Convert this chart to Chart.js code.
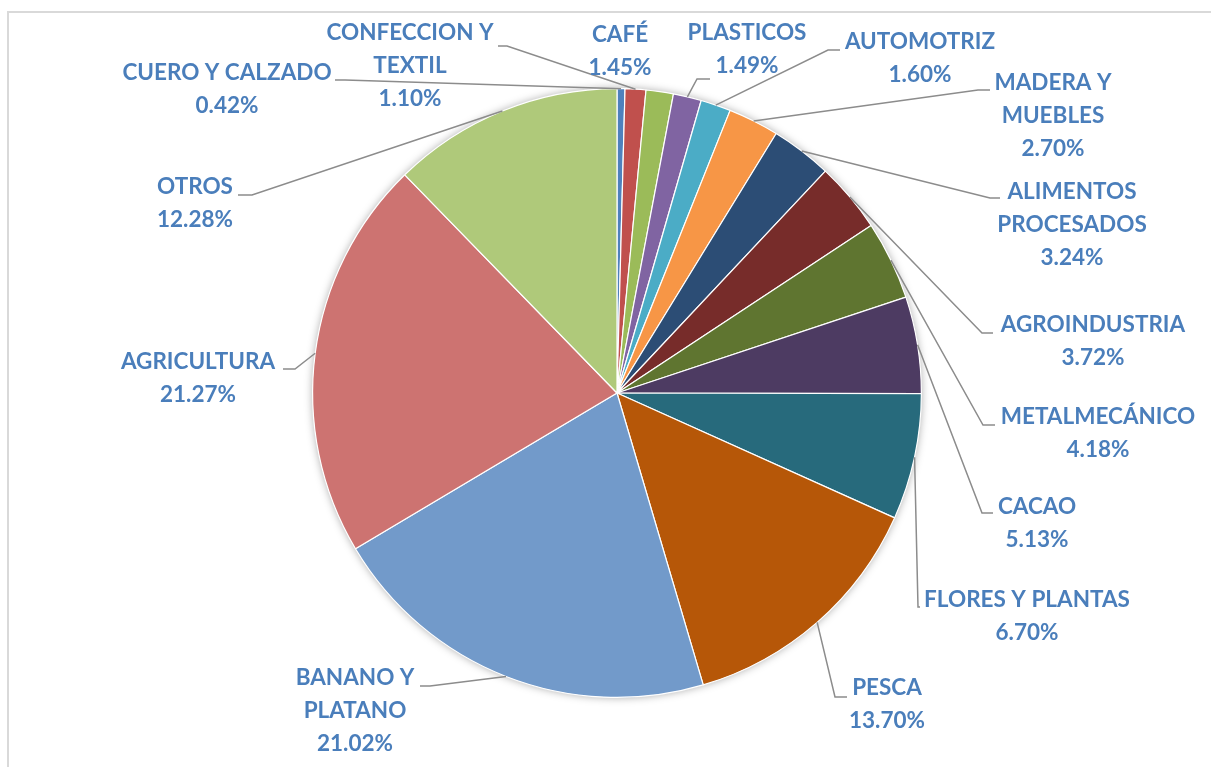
<!DOCTYPE html>
<html>
<head>
<meta charset="utf-8">
<script src="https://cdn.jsdelivr.net/npm/chart.js@4"></script>
<style>
    body { margin: 0; background: #fff; overflow: hidden; }
    #wrap { position: relative; width: 1211px; height: 767px; }
    #frame {
        position: absolute; left: 7px; top: 11px; width: 1220px; height: 780px;
        border-left: 2px solid #d9d9d9; border-top: 2px solid #d9d9d9;
    }
    canvas { position: absolute; left: 0; top: 0; }
</style>
</head>
<body>
<div id="wrap">
    <div id="frame"></div>
    <canvas id="pie-chart" width="1211" height="767"></canvas>
</div>
<script>
// NOTE data, clockwise from 12 o'clock
const categories = [
    'CUERO Y CALZADO',
    'CONFECCION Y\nTEXTIL',
    'CAFÉ',
    'PLASTICOS',
    'AUTOMOTRIZ',
    'MADERA Y\nMUEBLES',
    'ALIMENTOS\nPROCESADOS',
    'AGROINDUSTRIA',
    'METALMECÁNICO',
    'CACAO',
    'FLORES Y PLANTAS',
    'PESCA',
    'BANANO Y\nPLATANO',
    'AGRICULTURA',
    'OTROS',
];
const shares = [0.42, 1.10, 1.45, 1.49, 1.60, 2.70, 3.24, 3.72, 4.18, 5.13, 6.70, 13.70, 21.02, 21.27, 12.28];
const colors = [
    '#4F81BD', '#C0504D', '#9BBB59', '#8064A2', '#4BACC6', '#F79646',
    '#2C4D75', '#772C2A', '#5F7530', '#4D3B62', '#276A7C', '#B65708',
    '#729ACA', '#CD7371', '#AFC97A',
];

// label boxes (center x, first line y) and leader stub (start, knee)
const labelLayout = [
    { x: 227, y: 73, s: [335, 80], k: [345, 80] },
    { x: 410, y: 33, s: [498, 46], k: [507, 46] },
    { x: 620, y: 35, s: null },
    { x: 747, y: 33, s: [710, 79], k: [697, 79] },
    { x: 920, y: 42, s: [840, 50], k: [828, 50] },
    { x: 1053, y: 83, s: [990, 90], k: [978, 90] },
    { x: 1072, y: 192, s: [1000, 198], k: [990, 198] },
    { x: 1093, y: 325, s: [993, 333], k: [982, 333] },
    { x: 1098, y: 417, s: [995, 425], k: [983, 425] },
    { x: 1037, y: 507, s: [993, 513], k: [982, 513] },
    { x: 1027, y: 600, s: [920, 607], k: [918, 607] },
    { x: 887, y: 688, s: [847, 697], k: [835, 697] },
    { x: 355, y: 678, s: [420, 686], k: [430, 686] },
    { x: 198, y: 362, s: [283, 369], k: [295, 369] },
    { x: 195, y: 187, s: [238, 195], k: [252, 195] },
];
const LINE_H = 33;

const pieShadow = {
    id: 'pieShadow',
    beforeDatasetsDraw(chart) {
        const arc = chart.getDatasetMeta(0).data[0];
        if (!arc) return;
        const ctx = chart.ctx;
        ctx.save();
        ctx.shadowColor = 'rgba(0,0,0,0.35)';
        ctx.shadowBlur = 9;
        ctx.fillStyle = '#ffffff';
        ctx.beginPath();
        ctx.arc(arc.x, arc.y, arc.outerRadius, 0, Math.PI * 2);
        ctx.fill();
        ctx.restore();
    },
};

const outsideLabels = {
    id: 'outsideLabels',
    afterDatasetsDraw(chart) {
        const ctx = chart.ctx;
        const arcs = chart.getDatasetMeta(0).data;
        ctx.save();
        arcs.forEach((arc, i) => {
            const lay = labelLayout[i];
            if (lay.s) {
                const mid = (arc.startAngle + arc.endAngle) / 2;
                const px = arc.x + arc.outerRadius * Math.cos(mid);
                const py = arc.y + arc.outerRadius * Math.sin(mid);
                ctx.strokeStyle = '#8c8c8c';
                ctx.lineWidth = 1.5;
                ctx.beginPath();
                ctx.moveTo(lay.s[0], lay.s[1]);
                ctx.lineTo(lay.k[0], lay.k[1]);
                ctx.lineTo(px, py);
                ctx.stroke();
            }
            const lines = categories[i].split('\n');
            lines.push(shares[i].toFixed(2) + '%');
            ctx.fillStyle = '#4A7EBB';
            ctx.font = 'bold 22.5px Lato';
            ctx.textAlign = 'center';
            ctx.textBaseline = 'middle';
            lines.forEach((t, j) => ctx.fillText(t, lay.x, lay.y + j * LINE_H));
        });
        ctx.restore();
    },
};

new Chart(document.getElementById('pie-chart'), {
    type: 'pie',
    data: {
        labels: categories,
        datasets: [
            {
                data: shares,
                backgroundColor: colors,
                borderColor: '#ffffff',
                borderWidth: 1.2,
            },
        ],
    },
    options: {
        responsive: false,
        animation: false,
        layout: { padding: { left: 312, right: 289, top: 88, bottom: 69 } },
        plugins: { legend: { display: false }, tooltip: { enabled: false } },
    },
    plugins: [pieShadow, outsideLabels],
});
</script>
</body>
</html>
